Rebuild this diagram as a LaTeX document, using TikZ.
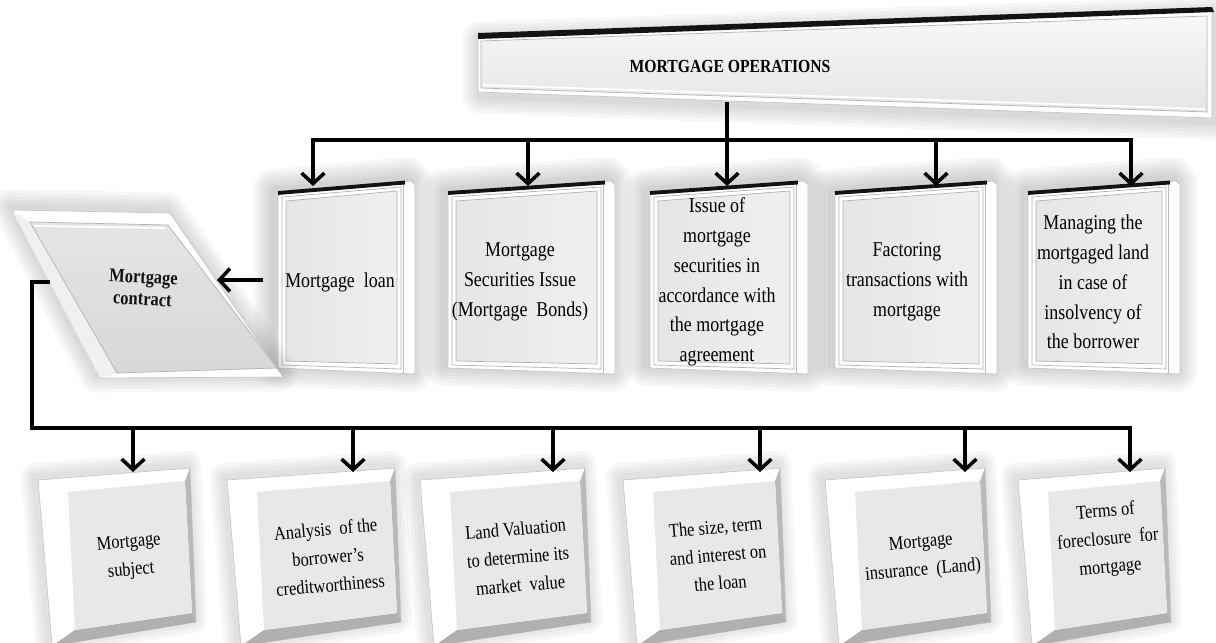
\documentclass[tikz,border=0pt]{standalone}
\usepackage{fontspec}
\setmainfont{Liberation Serif}[FakeStretch=0.85]
\usetikzlibrary{arrows.meta}

\begin{document}
\begin{tikzpicture}[x=0.02cm, y=-0.02cm, >={Straight Barb[length=6pt,width=13pt]},
  conn/.style={line width=2pt, black},
  arr/.style={conn, ->},
  ttxt/.style={align=center, font=\fontsize{12}{17}\selectfont},
  btxt/.style={align=center, font=\fontsize{11}{16}\selectfont},
  rim/.style={fill=white, draw=gray!45, line width=0.4pt},
  face/.style={draw=gray!60, line width=0.4pt},
  glow/.style={draw=black, draw opacity=0.03, line join=round}]

\useasboundingbox (0,0) rectangle (1216,642);

% ==== MORTGAGE OPERATIONS BANNER ====
\foreach \lw in {4pt,8pt,12pt,16pt,20pt}
  \draw[glow, line width=\lw, shift={(2,4)}] (478,35) -- (1212,10) -- (1212,118) -- (478,92) -- cycle;
\filldraw[rim] (478,35) -- (1212,10) -- (1212,118) -- (478,92) -- cycle;
\shadedraw[face, top color=gray!6, bottom color=gray!20] (481,41) -- (1207,16) -- (1207,112) -- (481,88) -- cycle;
\draw[white, line width=1pt] (483,85) -- (1205,109);
\fill[gray!15!black] (478,33) -- (1212,7) -- (1214,12) -- (478,39) -- cycle;
\node[font=\bfseries\fontsize{10.5}{13}\selectfont] (ops) at (730,66) {MORTGAGE OPERATIONS};
\coordinate (opsb) at (727,102);

% ==== TOP ROW ====
\foreach \x/\w/\a/\tx/\txt [count=\i] in {
    278/137/313/340/{Mortgage\ \ loan},
    448/167/528/520/{Mortgage\\Securities Issue\\(Mortgage\ \ Bonds)},
    650/158/727/717/{Issue of\\mortgage\\securities in\\accordance with\\the mortgage\\agreement},
    835/162/936/907/{Factoring\\transactions with\\mortgage},
    1028/152/1131/1093/{Managing the\\mortgaged land\\in case of\\insolvency of\\the borrower}}{
  \foreach \lw in {4pt,8pt,12pt,16pt,20pt,24pt}
    \draw[glow, line width=\lw, shift={(-4,-3)}] (\x,193) -- ({\x+\w-4},181) -- ({\x+\w},185) -- ({\x+\w},374) -- (\x,368) -- cycle;
  \filldraw[rim] (\x,193) -- ({\x+\w-4},181) -- ({\x+\w},185) -- ({\x+\w},374) -- (\x,368) -- cycle;
  \draw[face, fill=white] ({\x+4},197) -- ({\x+\w-14},187) -- ({\x+\w-14},369) -- ({\x+4},365) -- cycle;
  \shadedraw[face, left color=gray!20, right color=gray!12] ({\x+8},201) -- ({\x+\w-18},191) -- ({\x+\w-18},364) -- ({\x+8},361) -- cycle;
  \draw[gray!55] ({\x+\w-12},184) -- ({\x+\w-12},373);
  \draw[line width=2.2pt, gray!15!black] (\x,193) -- ({\x+\w-10},182.5);
  \node[ttxt] (t\i) at (\tx,282) {\txt};
  \coordinate (tin\i) at (\a,186);
}

% ==== MORTGAGE CONTRACT ====
\foreach \lw in {4pt,8pt,12pt,16pt,20pt}
  \draw[glow, line width=\lw, shift={(-3,-3)}] (13,210) -- (170,213) -- (283,377) -- (100,378) -- cycle;
\filldraw[rim] (13,210) -- (170,213) -- (283,377) -- (100,378) -- cycle;
\fill[gray!12] (13,212) -- (100,378) -- (118,373) -- (30,222) -- cycle;
\shadedraw[face, top color=gray!22, bottom color=gray!34, fill opacity=0.9] (30,222) -- (168,225) -- (277,368) -- (117,373) -- cycle;
\draw[white, line width=1pt] (34,226) -- (165,228);
\node[font=\bfseries\fontsize{11}{12.5}\selectfont, align=center, rotate=-3, text=gray!15!black] (mc) at (143,288) {Mortgage\\contract};
\coordinate (mcl) at (50,282);
\coordinate (mcbend) at (32,282);
\coordinate (mce) at (217,280);
\coordinate (tlw) at (263,280);

% ==== BOTTOM ROW ====
\foreach \x/\w/\a/\tx/\ty/\txt [count=\i] in {
    38/157/133/130/557/{Mortgage\\subject},
    227/173/353/328/557/{Analysis\ \ of the\\borrower's\\creditworthiness},
    420/170/553/518/557/{Land Valuation\\to determine its\\market\ \ value},
    623/162/760/718/555/{The size, term\\and interest on\\the loan},
    825/165/965/922/557/{Mortgage\\insurance\ \ (Land)},
    1018/152/1130/1108/540/{Terms of\\foreclosure\ \ for\\mortgage}}{
  \foreach \lw in {4pt,8pt,12pt,16pt}
    \draw[glow, line width=\lw, shift={(-3,-3)}] (\x,480) -- ({\x+\w-5},468) -- ({\x+\w+1},622) -- ({\x+14},646) -- cycle;
  \filldraw[rim] (\x,480) -- ({\x+\w-5},468) -- ({\x+\w+1},622) -- ({\x+14},646) -- cycle;
  \fill[gray!55] ({\x+\w-10},481) -- ({\x+\w-5},468) -- ({\x+\w+1},622) -- ({\x+\w-3},613) -- cycle;
  \fill[gray!62] ({\x+37},630) -- ({\x+\w-3},613) -- ({\x+\w+1},622) -- ({\x+14},646) -- cycle;
  \fill[gray!18] ({\x+30},492) -- ({\x+\w-10},481) -- ({\x+\w-3},613) -- ({\x+37},630) -- cycle;
  \node[btxt, rotate=5] (b\i) at (\tx,\ty) {\txt};
  \coordinate (cin\i) at (\a,472);
}

% ==== CONNECTORS ====
\coordinate (topbus) at (0,140);
\coordinate (botbus) at (0,428);
\draw[arr] (opsb) -- (opsb |- topbus) -| (tin1);
\draw[arr] (opsb |- topbus) -| (tin5);
\foreach \i in {2,3,4}
  \draw[arr] (tin\i |- topbus) -- (tin\i);
\draw[arr] (tlw) -- (mce);
\draw[arr] (mcl) -- (mcbend) |- (cin1 |- botbus) -- (cin1);
\draw[arr] (cin1 |- botbus) -| (cin6);
\foreach \i in {2,...,5}
  \draw[arr] (cin\i |- botbus) -- (cin\i);

\end{tikzpicture}
\end{document}
